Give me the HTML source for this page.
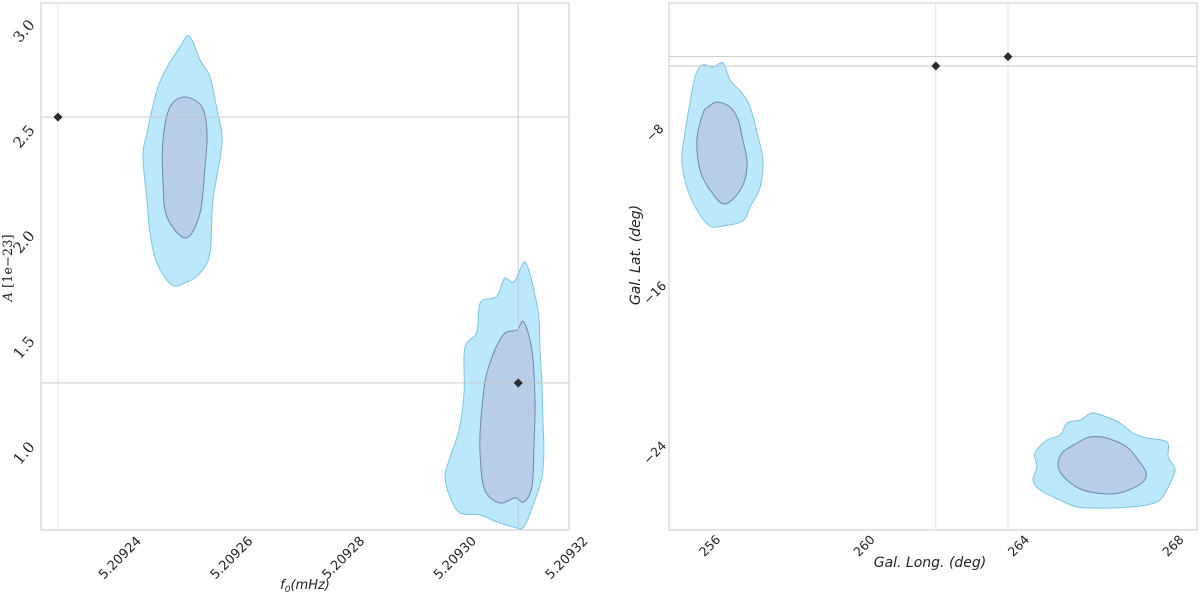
<!DOCTYPE html>
<html><head><meta charset="utf-8"><style>
html,body{margin:0;padding:0;background:#fff;}
svg{display:block;}
</style></head><body>
<svg id="chart" width="1200" height="595" xmlns="http://www.w3.org/2000/svg"></svg>
<script>
// ---------- Left panel data (f0 in units of 1e-5 offset from 5.2092 mHz, A in 1e-23) ----------
const leftXTicks = [4, 6, 8, 10, 12];
const leftXTickLabels = ["5.20924", "5.20926", "5.20928", "5.20930", "5.20932"];
const leftYTicks = [1.0, 1.5, 2.0, 2.5, 3.0];
const leftYTickLabels = ["1.0", "1.5", "2.0", "2.5", "3.0"];
const leftMarkers = [[2.89, 2.592], [11.13, 1.332]];
const blob1OuterU = [5.20,5.074,4.842,4.662,4.483,4.412,4.483,4.537,4.662,4.931,5.200,5.432,5.611,5.665,5.826,5.737,5.611,5.432,5.289];
const blob1OuterA = [2.976,2.924,2.829,2.720,2.517,2.403,2.199,2.043,1.900,1.796,1.810,1.853,1.948,2.199,2.469,2.626,2.782,2.863,2.957];
const blob1InnerU = [5.164,4.895,4.770,4.770,4.842,5.182,5.432,5.522,5.558,5.468];
const blob1InnerA = [2.687,2.640,2.483,2.280,2.118,2.019,2.137,2.355,2.517,2.640];
const blob2OuterU = [11.250,11.320,11.410,11.500,11.520,11.555,11.570,11.590,11.555,11.410,11.230,11.050,10.750,10.450,10.090,9.910,9.820,9.910,10.070,10.160,10.160,10.210,10.390,10.450,10.700,10.790,10.890,11.050,11.200];
const blob2OuterA = [1.905,1.867,1.773,1.645,1.488,1.332,1.171,1.014,0.886,0.763,0.649,0.649,0.673,0.706,0.716,0.791,0.886,0.981,1.109,1.284,1.455,1.521,1.573,1.711,1.735,1.763,1.829,1.810,1.891];
const blob2InnerU = [11.230,11.375,11.430,11.410,11.375,11.230,11.070,10.800,10.530,10.450,10.450,10.515,10.570,10.710,10.890,11.110];
const blob2InnerA = [1.621,1.488,1.251,1.014,0.839,0.768,0.787,0.763,0.825,0.981,1.109,1.299,1.379,1.488,1.568,1.583];
// ---------- Right panel data (galactic longitude / latitude, deg) ----------
const rightXTicks = [256, 260, 264, 268];
const rightYTicks = [-8, -16, -24];
const rightMarkers = [[261.85, -4.65], [263.72, -4.18]];
const blob3OuterL = [255.79,256.08,256.34,256.52,256.83,257.04,257.22,257.37,257.30,257.04,256.85,256.34,256.0,255.66,255.40,255.27,255.35,255.48,255.61];
const blob3OuterB = [-4.6,-4.7,-4.5,-5.35,-6.0,-6.7,-8.0,-9.35,-10.7,-11.7,-12.4,-12.65,-12.65,-11.85,-10.7,-9.35,-8.0,-6.5,-5.2];
const blob3InnerL = [256.18,256.52,256.73,256.85,256.96,256.83,256.39,256.0,255.74,255.66,255.82,255.95];
const blob3InnerB = [-6.45,-6.7,-7.35,-8.35,-9.5,-10.7,-11.55,-10.85,-9.85,-8.35,-7.0,-6.7];
const blob4OuterL = [265.90,266.28,266.62,266.96,267.32,267.84,267.87,268.05,267.87,267.66,267.32,266.88,266.44,266.03,265.51,265.07,264.55,264.37,264.47,264.42,264.73,265.07,265.25,265.59];
const blob4OuterB = [-22.0,-22.2,-22.5,-23.0,-23.25,-23.45,-24.2,-24.85,-25.7,-26.35,-26.6,-26.7,-26.75,-26.75,-26.7,-26.35,-25.85,-25.35,-24.7,-24.0,-23.35,-23.1,-22.5,-22.35];
const blob4InnerL = [265.84,266.28,266.80,267.09,267.30,267.19,266.70,266.28,265.66,265.25,265.02,265.12,265.51];
const blob4InnerB = [-23.2,-23.25,-23.7,-24.35,-25.0,-25.5,-25.95,-26.05,-25.85,-25.35,-24.7,-24.0,-23.5];

const NS = "http://www.w3.org/2000/svg";
const svg = document.getElementById("chart");
function mk(tag, attrs, parent) {
  const e = document.createElementNS(NS, tag);
  for (const k in attrs) e.setAttribute(k, attrs[k]);
  (parent || svg).appendChild(e);
  return e;
}
const L = {x0: 41, x1: 569, y0: 3, y1: 530};
const lx = u => 120 + (u - 4) * 55.85;
const ly = a => 31 + (3 - a) * 211;
const R = {x0: 669, x1: 1197, y0: 3, y1: 530};
const rx = l => 710 + (l - 256) * 38.6;
const ry = b => 133 + (-8 - b) * 20;

function poly(us, vs, fx, fy, fill, stroke, name) {
  const pts = us.map((u, i) => [fx(u), fy(vs[i])]);
  let d = "";
  const n = pts.length;
  for (let i = 0; i < n; i++) {
    const p0 = pts[(i - 1 + n) % n], p1 = pts[i], p2 = pts[(i + 1) % n], p3 = pts[(i + 2) % n];
    if (i === 0) d += "M" + p1[0].toFixed(1) + "," + p1[1].toFixed(1);
    const c1 = [p1[0] + (p2[0] - p0[0]) / 6, p1[1] + (p2[1] - p0[1]) / 6];
    const c2 = [p2[0] - (p3[0] - p1[0]) / 6, p2[1] - (p3[1] - p1[1]) / 6];
    d += "C" + c1.map(v => v.toFixed(1)) + " " + c2.map(v => v.toFixed(1)) + " " + p2.map(v => v.toFixed(1));
  }
  const p = mk("path", {d: d + "Z", fill: fill, stroke: stroke, "stroke-width": 1});
  
  
}
function diamond(cx, cy, name) {
  const p = mk("path", {d: `M${cx},${cy-4.5}L${cx+4.5},${cy}L${cx},${cy+4.5}L${cx-4.5},${cy}Z`, fill: "#2b2b2b"});
  
  
}
function line(x1, y1, x2, y2, col, name) {
  const e = mk("line", {x1, y1, x2, y2, stroke: col, "stroke-width": 0.9});
  
  
}
function text(x, y, s, attrs, name) {
  const t = mk("text", Object.assign({x, y}, attrs));
  t.textContent = s;
  
  
  return t;
}

const OUT_F = "#bbe8fb", OUT_S = "#7cc3e6", IN_F = "#b7cde8", IN_S = "#6f86b0";
poly(blob1OuterU, blob1OuterA, lx, ly, OUT_F, OUT_S, "contour-outer-mode1");
poly(blob1InnerU, blob1InnerA, lx, ly, IN_F, IN_S, "contour-inner-mode1");
poly(blob2OuterU, blob2OuterA, lx, ly, OUT_F, OUT_S, "contour-outer-mode2");
poly(blob2InnerU, blob2InnerA, lx, ly, IN_F, IN_S, "contour-inner-mode2");
leftMarkers.forEach((m, i) => {
  line(lx(m[0]), L.y0, lx(m[0]), L.y1, i === 0 ? "#e4e4e4" : "#c4c4c4", "truth-vline-" + i);
  line(L.x0, ly(m[1]), L.x1, ly(m[1]), "#c4c4c4", "truth-hline-" + i);
});
leftMarkers.forEach((m, i) => diamond(lx(m[0]), ly(m[1]), "truth-marker-" + i));
const lf = mk("rect", {x: L.x0, y: L.y0, width: L.x1 - L.x0, height: L.y1 - L.y0, fill: "none", stroke: "#d2d2d2", "stroke-width": 1.2});


leftXTicks.forEach((u, i) => {
  const x = lx(u), y = 558;
  text(x, y + 4, leftXTickLabels[i], {"font-family": "DejaVu Sans, sans-serif", "font-size": 13, fill: "#222", "text-anchor": "middle", transform: `rotate(-45 ${x} ${y})`}, "x-tick-label-" + leftXTickLabels[i]);
});
leftYTicks.forEach((a, i) => {
  const x = 24, y = ly(a);
  text(x, y + 5, leftYTickLabels[i], {"font-family": "DejaVu Serif, serif", "font-size": 15, fill: "#222", "text-anchor": "middle", transform: `rotate(-50 ${x} ${y})`}, "y-tick-label-" + leftYTickLabels[i]);
});
const xl = text(305, 589, "", {"font-family": "DejaVu Sans, sans-serif", "font-size": 13, fill: "#222", "text-anchor": "middle", "font-style": "italic"}, "x-axis-title-f0");
xl.innerHTML = 'f<tspan font-size="9" dy="3">0</tspan><tspan dy="-3">(mHz)</tspan>';
const yl = text(12, 268, "", {"font-family": "DejaVu Serif, serif", "font-size": 13, fill: "#222", "text-anchor": "middle", transform: "rotate(-90 12 268)"}, "y-axis-title-amplitude");
yl.innerHTML = '<tspan font-style="italic">A</tspan> [1e−23]';

poly(blob3OuterL, blob3OuterB, rx, ry, OUT_F, OUT_S, "contour-outer-sky1");
poly(blob3InnerL, blob3InnerB, rx, ry, IN_F, IN_S, "contour-inner-sky1");
poly(blob4OuterL, blob4OuterB, rx, ry, OUT_F, OUT_S, "contour-outer-sky2");
poly(blob4InnerL, blob4InnerB, rx, ry, IN_F, IN_S, "contour-inner-sky2");
rightMarkers.forEach((m, i) => {
  line(rx(m[0]), R.y0, rx(m[0]), R.y1, "#dedede", "sky-truth-vline-" + i);
  line(R.x0, ry(m[1]), R.x1, ry(m[1]), "#c8c8c8", "sky-truth-hline-" + i);
});
rightMarkers.forEach((m, i) => diamond(rx(m[0]), ry(m[1]), "sky-truth-marker-" + i));
const rf = mk("rect", {x: R.x0, y: R.y0, width: R.x1 - R.x0, height: R.y1 - R.y0, fill: "none", stroke: "#d2d2d2", "stroke-width": 1.2});


rightXTicks.forEach(l => {
  const x = rx(l), y = 546;
  text(x, y + 4, String(l), {"font-family": "DejaVu Sans, sans-serif", "font-size": 12.5, fill: "#222", "text-anchor": "middle", transform: `rotate(-45 ${x} ${y})`}, "lon-tick-label-" + l);
});
rightYTicks.forEach(b => {
  const x = 655, y = ry(b);
  text(x, y + 4, String(b).replace("-", "−"), {"font-family": "DejaVu Sans, sans-serif", "font-size": 12.5, fill: "#222", "text-anchor": "middle", transform: `rotate(-45 ${x} ${y})`}, "lat-tick-label-" + b);
});
text(930, 567, "Gal. Long. (deg)", {"font-family": "DejaVu Sans, sans-serif", "font-size": 14, fill: "#222", "text-anchor": "middle", "font-style": "italic"}, "x-axis-title-longitude");
text(640, 255, "Gal. Lat. (deg)", {"font-family": "DejaVu Sans, sans-serif", "font-size": 14, fill: "#222", "text-anchor": "middle", "font-style": "italic", transform: "rotate(-90 640 255)"}, "y-axis-title-latitude");
</script>
</body></html>
